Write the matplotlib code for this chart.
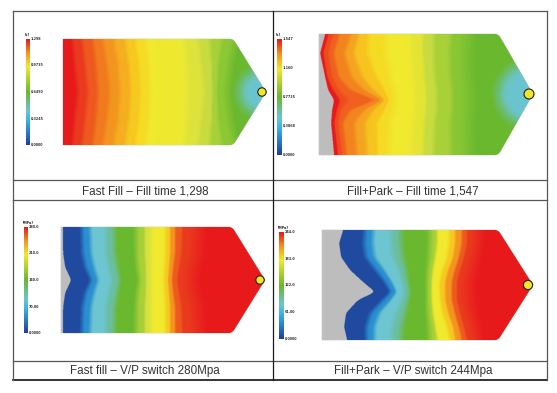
import numpy as np
import matplotlib
matplotlib.use('Agg')
import matplotlib.pyplot as plt
from matplotlib.colors import LinearSegmentedColormap, to_rgb
from matplotlib.patches import Circle, PathPatch
from matplotlib.path import Path

# rainbow used by all four results, 0 = blue, 1 = red
cmap_stops = [0.0, 0.12, 0.24, 0.32, 0.5, 0.74, 0.87, 1.0]
cmap_cols = ['#1f3f9e', '#2a7cc8', '#3cb8e4', '#6cc5d0', '#6ab82e', '#f0e92e', '#f3951f', '#e8191c']
rainbow = LinearSegmentedColormap.from_list('moldflow', list(zip(cmap_stops, cmap_cols)))

# part outlines in image pixels: left, shoulder, tip, top, bottom
outline1 = [63, 233, 266, 39, 145]
outline2 = [319, 498, 533, 34, 155]
outline3 = [61, 232, 265, 227, 333]
outline4 = [322, 498, 533, 230, 340]

gate1 = [262, 92, 4.2]
gate2 = [529, 94, 5]
gate3 = [260, 280, 4.2]
gate4 = [528, 285, 4.6]

# y stations of the flow fronts, then x of each front at those stations
y1 = [39, 65, 92, 119, 145]
fronts1 = [
    [72, 75, 78, 75, 72], [82, 85, 88, 85, 82], [93, 96, 98, 96, 93],
    [103, 107, 110, 107, 103], [114, 118, 120, 118, 114], [125, 129, 131, 129, 125],
    [136, 139, 141, 139, 136], [146, 149, 150, 149, 146], [157, 159, 160, 159, 157],
    [187, 188, 190, 188, 187], [198, 202, 205, 202, 198], [210, 212, 213, 212, 210],
    [222, 218, 217, 218, 222], [233, 227, 223, 227, 233],
]
cols1 = ['#e8191c', '#ea3a1e', '#ee5a1e', '#f27a1e', '#f3951f', '#f5ae1f', '#f7c81f',
         '#f5dc25', '#f0e92e', '#eeea30', '#dde33a', '#c8dc40', '#a8d038', '#8cc834', '#6ab82e']
y2 = [34, 53, 77, 90, 100, 110, 123, 155]
grey2 = [325, 320, 325, 328, 334, 332, 331, 334]
fronts2 = [
    [328, 323, 327, 333, 340, 337, 334, 338], [333, 328, 332, 338, 345, 340, 338, 342],
    [339, 333, 338, 350, 378, 350, 342, 346], [352, 345, 352, 365, 382, 365, 355, 357],
    [359, 353, 362, 373, 385, 373, 365, 367], [368, 367, 377, 385, 389, 385, 377, 378],
    [385, 385, 389, 392, 394, 392, 389, 387], [413, 413, 415, 417, 417, 417, 415, 413],
    [423, 423, 424, 426, 426, 426, 424, 423], [433, 433, 434, 436, 436, 436, 434, 433],
    [452, 450, 451, 453, 453, 453, 451, 452], [463, 461, 462, 463, 463, 463, 462, 463],
]
cols2 = ['#e8191c', '#ee4a1e', '#f0601e', '#f3851f', '#f5a51f', '#f6c41f', '#f5dc25',
         '#f0e92e', '#e4e435', '#c8dc40', '#a8d038', '#88c634', '#6ab82e']
y3 = [227, 253, 267, 280, 293, 307, 333]
grey3 = [63, 63, 65, 71, 65, 63, 63]
fronts3 = [
    [83, 84, 87, 93, 87, 84, 83], [89, 90, 93, 97, 93, 90, 89], [107, 107, 110, 113, 110, 107, 107],
    [112, 113, 115, 118, 115, 113, 112], [138, 138, 139, 141, 139, 138, 138],
    [145, 145, 146, 146, 146, 145, 145], [150, 150, 150, 150, 150, 150, 150],
    [167, 167, 166, 165, 166, 167, 167], [170, 170, 169, 168, 169, 170, 170],
    [175, 175, 173, 172, 173, 175, 175], [182, 181, 179, 177, 179, 181, 182],
    [192, 190, 186, 184, 186, 190, 192],
]
cols3 = ['#1f4aa0', '#2a8fd0', '#6cc5d0', '#6abfa0', '#6ab82e', '#a8d038', '#d8e040',
         '#f0e92e', '#f7c81f', '#f3951f', '#ee5a1e', '#ea3a1e', '#e8191c']
y4 = [230, 243, 257, 270, 282, 292, 300, 313, 327, 340]
grey4 = [343, 339, 341, 350, 363, 375, 358, 346, 344, 347]
fronts4 = [
    [367, 366, 368, 378, 387, 392, 385, 373, 368, 368], [372, 371, 373, 383, 391, 396, 390, 378, 373, 373],
    [393, 393, 395, 400, 403, 405, 403, 398, 394, 393], [398, 398, 400, 404, 406, 408, 406, 403, 399, 398],
    [433, 433, 432, 430, 429, 429, 429, 430, 432, 433], [436, 436, 434, 432, 431, 431, 431, 432, 434, 436],
    [450, 450, 448, 443, 440, 440, 441, 443, 448, 451], [455, 455, 453, 448, 445, 445, 445, 448, 453, 455],
    [462, 462, 459, 455, 452, 452, 452, 455, 459, 462], [467, 467, 464, 460, 457, 457, 457, 460, 464, 467],
    [472, 472, 469, 465, 462, 462, 462, 465, 469, 472],
]
cols4 = ['#1f4aa0', '#2a8fd0', '#6cc5d0', '#6abfa0', '#6ab82e', '#a8d038', '#f0e92e',
         '#f7c81f', '#f3951f', '#ee5a1e', '#ea3a1e', '#e8191c']

# colour around the gate in the fill time plots, radius going outward
ring_r1 = [10, 16, 22, 30]
ring_v1 = [0.32, 0.34, 0.42, 0.5]
ring_r2 = [18, 24, 30, 38]
ring_v2 = [0.32, 0.34, 0.42, 0.5]

# colour bars: left, right, top, bottom
bar1 = [26, 30, 39, 145]
bar2 = [277, 282, 39, 155]
bar3 = [24, 28, 227, 333]
bar4 = [279, 284, 232, 339]
ticks1 = ['1.298', '0.9735', '0.6490', '0.3245', '0.0000']
ticks2 = ['1.547', '1.160', '0.7735', '0.3868', '0.0000']
ticks3 = ['280.0', '210.0', '140.0', '70.00', '0.0000']
ticks4 = ['244.0', '183.0', '122.0', '61.00', '0.0000']

titles = ['Fast Fill \u2013 Fill time 1,298', 'Fill+Park \u2013 Fill time 1,547',
          'Fast fill \u2013 V/P switch 280Mpa', 'Fill+Park \u2013 V/P switch 244Mpa']
title_x = [145, 413, 145, 413]
title_y = [191, 191, 371, 371]

# table rules
hlines = [11, 180, 200, 361, 380]
vlines = [13, 273, 547]

fig = plt.figure(figsize=(5.57, 3.93), dpi=100)
ax = fig.add_axes([0, 0, 1, 1])
ax.set_xlim(0, 557)
ax.set_ylim(393, 0)
ax.axis('off')


def soften(grid, ys, xs):
    # round off a front between the stations
    xx = np.interp(grid, ys, xs)
    win = np.hanning(25)
    return np.convolve(np.pad(xx, 12, mode='edge'), win / win.sum(), mode='valid')


def draw_part(box, ys, fronts, cols, gate, grey=None, rings=None):
    left, shoulder, tip, top, bot = box
    mid = gate[1]
    verts = [(left, top), (shoulder - 3, top), (shoulder, top), (shoulder + 2, top + 3),
             (tip, mid), (shoulder + 2, bot - 3), (shoulder, bot), (shoulder - 3, bot),
             (left, bot), (left, top)]
    codes = [Path.MOVETO, Path.LINETO, Path.CURVE3, Path.CURVE3, Path.LINETO, Path.LINETO,
             Path.CURVE3, Path.CURVE3, Path.LINETO, Path.CLOSEPOLY]
    shape = PathPatch(Path(verts, codes), fc='#bdbdbd', ec='#c8c8c8', lw=0.5, zorder=2)
    ax.add_patch(shape)

    # each band holds its colour in the middle and fades into the next at the edges
    gy = np.linspace(top, bot, (bot - top) * 3)
    gx = np.linspace(left, tip, (tip - left) * 3)
    rgb = np.array([to_rgb(c) for c in cols])
    paths = np.array([soften(gy, ys, f) for f in fronts])
    start = soften(gy, ys, grey) if grey else np.full(gy.shape, float(left))
    img = np.ones((len(gy), len(gx), 4))
    for i in range(len(gy)):
        edges = np.concatenate(([start[i]], paths[:, i], [tip + 5]))
        knots = []
        for a, b in zip(edges[:-1], edges[1:]):
            w = max(b - a, 0.1)
            knots += [a + 0.2 * w, b - 0.2 * w]
        knots = np.maximum.accumulate(knots)
        for ch in range(3):
            img[i, :, ch] = np.interp(gx, knots, np.repeat(rgb[:, ch], 2))
        img[i, gx < start[i], 3] = 0
        if rings:
            dist = np.hypot(gx - (tip - 4), gy[i] - mid)
            near = dist < rings[0][-1]
            img[i, near, :3] = rainbow(np.interp(dist[near], rings[0], rings[1]))[:, :3]
    im = ax.imshow(img, extent=[left, tip, bot, top], aspect='auto', zorder=3)
    im.set_clip_path(shape)
    ax.add_patch(Circle((gate[0], gate[1]), gate[2], fc='#f2e52a', ec='#222222', lw=0.8, zorder=5))


def draw_bar(bar, ticks, unit):
    grad = np.linspace(1, 0, 200).reshape(-1, 1)
    ax.imshow(grad, cmap=rainbow, extent=[bar[0], bar[1], bar[3], bar[2]], aspect='auto', zorder=2)
    ty = np.linspace(bar[2], bar[3], len(ticks))
    for lab, t in zip(ticks, ty):
        ax.text(bar[1] + 1, t, lab, fontsize=2.4, color='#333333', va='center', ha='left', fontweight='bold')
    ax.text(bar[0] - 1, bar[2] - 4, unit, fontsize=2.4, color='#333333', va='center', ha='left', fontweight='bold')


draw_part(outline1, y1, fronts1, cols1, gate1, rings=(ring_r1, ring_v1))
draw_part(outline2, y2, fronts2, cols2, gate2, grey=grey2, rings=(ring_r2, ring_v2))
draw_part(outline3, y3, fronts3, cols3, gate3, grey=grey3)
draw_part(outline4, y4, fronts4, cols4, gate4, grey=grey4)
draw_bar(bar1, ticks1, '[s]')
draw_bar(bar2, ticks2, '[s]')
draw_bar(bar3, ticks3, '[MPa]')
draw_bar(bar4, ticks4, '[MPa]')
ax.set_xlim(0, 557)
ax.set_ylim(393, 0)

for yy in hlines:
    lw = 1.2 if yy == 380 else 0.9
    col = '#111111' if yy == 380 else '#5a5650'
    ax.plot([13, 547], [yy, yy], color=col, lw=lw, zorder=6)
for xx in vlines:
    ax.plot([xx, xx], [11, 380], color='#1a1a1a' if xx == 273 else '#5a5650', lw=0.9, zorder=6)

for t, x, y in zip(titles, title_x, title_y):
    ax.text(x, y, t, fontsize=8.4, color='#333333', ha='center', va='center',
            family='Liberation Sans')

fig.savefig('out.png', dpi=100, facecolor='white')
